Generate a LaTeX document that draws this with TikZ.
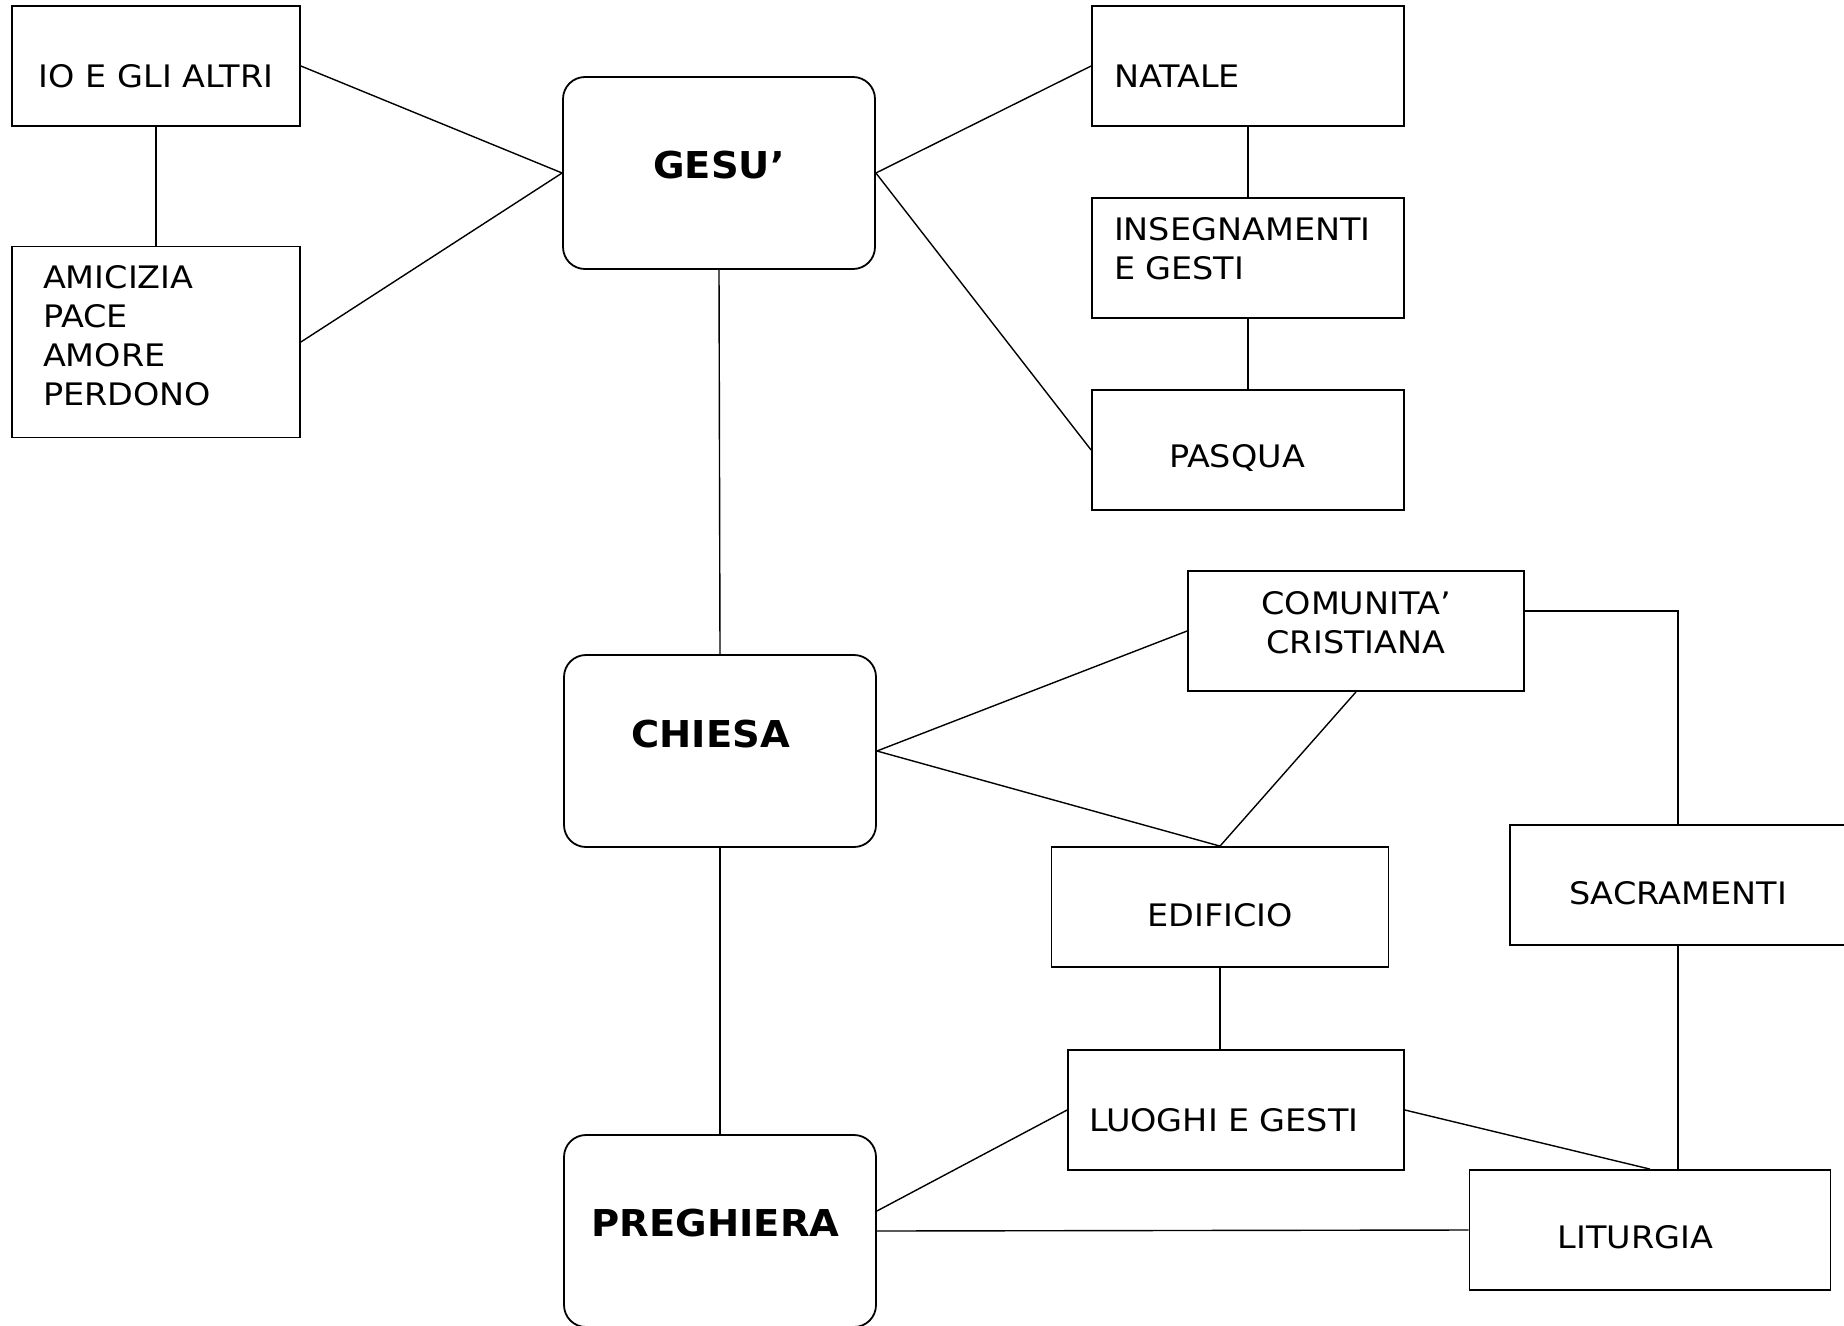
\documentclass[tikz,border=0pt]{standalone}
\usepackage{fontspec}
\setmainfont{DejaVu Sans}[FakeStretch=1.08]
\newfontfamily\headfont{DejaVu Sans}[FakeStretch=1.04]
\usepackage{tikz}

\tikzset{
  box/.style={draw, line width=1.8pt, minimum width=312pt, minimum height=120pt,
    inner sep=0pt, align=center, font=\fontsize{31}{39}\selectfont},
  topic/.style={box, rounded corners=22pt, minimum height=192pt,
    font=\headfont\bfseries\fontsize{37}{44}\selectfont},
  link/.style={line width=1.4pt}
}

\begin{document}
\begin{tikzpicture}[x=1pt,y=-1pt]

\useasboundingbox[fill=white] (0,0) rectangle (1844,1325);

% main topics
\node[topic, text depth=16pt] (gesu) at (719,173) {GESU’};
\node[topic, text width=177pt, align=left, text depth=34pt] (chiesa) at (720,751) {CHIESA};
\node[topic, text width=257pt, align=left, text depth=16pt] (preghiera) at (720,1231) {PREGHIERA};

% left side
\node[box, minimum width=288pt, text height=44pt] (io) at (156,66) {IO E GLI ALTRI};
\node[box, minimum width=288pt, minimum height=191pt, text width=226pt, align=left,
  text depth=131pt] (amicizia) at (156,342) {AMICIZIA\\PACE\\AMORE\\PERDONO};

% right of gesu
\node[box, text width=268pt, align=left, text height=43pt] (natale) at (1248,66) {NATALE};
\node[box, text width=268pt, align=left, text depth=58pt] (insegnamenti) at (1248,258) {INSEGNAMENTI\\E GESTI};
\node[box, text width=158pt, align=left, text height=39pt] (pasqua) at (1248,450) {PASQUA};

% right of chiesa
\node[box, minimum width=336pt, text depth=18pt] (comunita) at (1356,631) {COMUNITA’\\CRISTIANA};
\node[box, minimum width=337pt, text height=39pt] (edificio) at (1220,907) {EDIFICIO};
\node[box, minimum width=336pt, text height=39pt] (sacramenti) at (1678,885) {SACRAMENTI};
\node[box, minimum width=336pt, text width=294pt, align=left, text height=43pt] (luoghi) at (1236,1110) {LUOGHI E GESTI};
\node[box, minimum width=361pt, text width=185pt, align=left, text height=37pt] (liturgia) at (1650,1230) {LITURGIA};

\draw[link] (io.east) -- (gesu.west);
\draw[link] (amicizia.east) -- (gesu.west);
\draw[link] (io.south) -- (amicizia.north);

\draw[link] (gesu.east) -- (natale.west);
\draw[link] (gesu.east) -- (pasqua.west);
\draw[link] (natale.south) -- (insegnamenti.north);
\draw[link] (insegnamenti.south) -- (pasqua.north);

\draw[link] (gesu.south) -- (chiesa.north);
\draw[link] (chiesa.south) -- (preghiera.north);

\draw[link] (chiesa.east) -- (comunita.west);
\draw[link] (chiesa.east) -- (edificio.north);
\draw[link] (comunita.south) -- (edificio.north);
\draw[link] ([yshift=20pt]comunita.east) -| (sacramenti.north);
\draw[link] (edificio.south) -- (edificio.south |- luoghi.north);
\draw[link] (sacramenti.south) -- (sacramenti.south |- liturgia.north);

\draw[link] ([yshift=20pt]preghiera.east) -- (luoghi.west);
\draw[link] (preghiera.east) -- (liturgia.west);
\draw[link] (luoghi.east) -- (liturgia.north);

\end{tikzpicture}
\end{document}
